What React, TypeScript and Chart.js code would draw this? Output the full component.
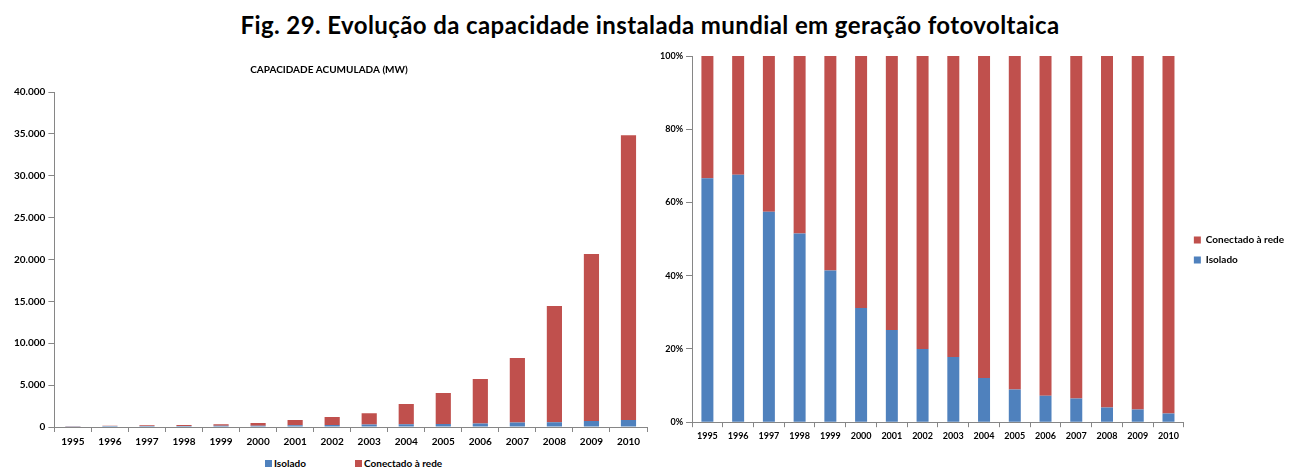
import React, { useEffect, useRef } from "react";
import { Chart, registerables } from "chart.js";

Chart.register(...registerables);

const years = ["1995","1996","1997","1998","1999","2000","2001","2002","2003","2004","2005","2006","2007","2008","2009","2010"];
// Capacidade acumulada (MW)
const isoladoMW = [87, 108, 115, 130, 137, 150, 210, 240, 290, 330, 360, 410, 540, 580, 720, 840];
const conectadoMW = [43, 52, 85, 120, 193, 330, 630, 950, 1340, 2420, 3700, 5320, 7700, 13870, 19940, 34010];
// Participação (%)
const isoladoPct = [66.6, 67.6, 57.5, 51.5, 41.4, 31.2, 25.2, 20.0, 17.8, 12.1, 8.9, 7.2, 6.5, 4.0, 3.5, 2.4];
const conectadoPct = [33.4, 32.4, 42.5, 48.5, 58.6, 68.8, 74.8, 80.0, 82.2, 87.9, 91.1, 92.8, 93.5, 96.0, 96.5, 97.6];
const leftTicksMax = 40000;
const rightTicksMax = 100;
const seriesNames = ["Isolado", "Conectado à rede"];

const BLUE = "#4F81BD";
const RED = "#C0504D";
const FONT = "Lato, 'Open Sans', sans-serif";
const AXIS = "#868686";

const fmt = (v: number) => String(v).replace(/\B(?=(\d{3})+(?!\d))/g, ".");

function LeftChart() {
  const ref = useRef<HTMLCanvasElement>(null);
  useEffect(() => {
    const c = new Chart(ref.current!, {
      type: "bar",
      data: {
        labels: years,
        datasets: [
          { label: seriesNames[0], data: isoladoMW, backgroundColor: BLUE, barPercentage: 0.41, categoryPercentage: 1 },
          { label: seriesNames[1], data: conectadoMW, backgroundColor: RED, barPercentage: 0.41, categoryPercentage: 1 },
        ],
      },
      options: {
        animation: false,
        responsive: true,
        maintainAspectRatio: false,
        layout: { padding: { left: 11, right: 8, top: 0, bottom: 1 } },
        plugins: {
          title: {
            display: true,
            text: "CAPACIDADE ACUMULADA (MW)",
            color: "#000",
            font: { family: FONT, size: 10, weight: "bold" },
            padding: { top: 6, bottom: 16 },
          },
          legend: { display: false },
          tooltip: { enabled: false },
        },
        scales: {
          x: {
            stacked: true,
            grid: { display: true, drawOnChartArea: false, drawTicks: true, tickLength: 5, color: AXIS, offset: true },
            border: { color: AXIS },
            ticks: { color: "#000", font: { family: FONT, size: 10, weight: "bold" }, maxRotation: 0, padding: 4 },
          },
          y: {
            stacked: true,
            min: 0,
            max: leftTicksMax,
            grid: { display: true, drawOnChartArea: false, drawTicks: true, tickLength: 6, color: AXIS },
            border: { color: AXIS },
            ticks: {
              stepSize: 5000,
              color: "#000",
              font: { family: FONT, size: 10, weight: "bold" },
              padding: 3,
              callback: (v: any) => fmt(Number(v)),
            },
          },
        },
      },
    });
    return () => c.destroy();
  }, []);
  return <canvas ref={ref} />;
}

function RightChart() {
  const ref = useRef<HTMLCanvasElement>(null);
  useEffect(() => {
    const c = new Chart(ref.current!, {
      type: "bar",
      data: {
        labels: years,
        datasets: [
          { label: seriesNames[0], data: isoladoPct, backgroundColor: BLUE, barPercentage: 0.39, categoryPercentage: 1 },
          { label: seriesNames[1], data: conectadoPct, backgroundColor: RED, barPercentage: 0.39, categoryPercentage: 1 },
        ],
      },
      options: {
        animation: false,
        responsive: true,
        maintainAspectRatio: false,
        layout: { padding: { left: 9, right: 0, top: 12, bottom: 0 } },
        plugins: {
          legend: {
            position: "right",
            reverse: true,
            align: "center",
            labels: {
              color: "#000",
              font: { family: FONT, size: 10, weight: "bold" },
              boxWidth: 7,
              boxHeight: 7,
              padding: 10,
            },
          },
          tooltip: { enabled: false },
        },
        scales: {
          x: {
            stacked: true,
            grid: { display: true, drawOnChartArea: false, drawTicks: true, tickLength: 5, color: AXIS, offset: true },
            border: { color: AXIS },
            ticks: { color: "#000", font: { family: FONT, size: 9, weight: "bold" }, maxRotation: 0, padding: 3 },
          },
          y: {
            stacked: true,
            min: 0,
            max: rightTicksMax,
            grid: { display: true, drawOnChartArea: false, drawTicks: true, tickLength: 6, color: AXIS },
            border: { color: AXIS },
            ticks: {
              stepSize: 20,
              color: "#000",
              font: { family: FONT, size: 9, weight: "bold" },
              padding: 3,
              callback: (v: any) => v + "%",
            },
          },
        },
      },
    });
    return () => c.destroy();
  }, []);
  return <canvas ref={ref} />;
}

const legendText: React.CSSProperties = {
  position: "absolute",
  top: 0,
  fontFamily: FONT,
  fontWeight: "bold",
  fontSize: 10,
  lineHeight: "14px",
  color: "#000",
  whiteSpace: "nowrap",
  display: "flex",
  alignItems: "center",
};
const swatch = (color: string): React.CSSProperties => ({
  display: "inline-block",
  width: 7,
  height: 7,
  background: color,
  marginRight: 2,
});

export default function App() {
  return (
    <div style={{ position: "fixed", left: 0, top: 0, width: 1289, height: 468, background: "#fff", overflow: "hidden" }}>
      <div
        style={{
          position: "absolute",
          left: 0,
          top: 9,
          width: 1300,
          textAlign: "center",
          fontFamily: FONT,
          fontWeight: "bold",
          fontSize: 24,
          letterSpacing: "0.4px",
          color: "#000",
          lineHeight: "32px",
        }}
      >
        Fig. 29. Evolução da capacidade instalada mundial em geração fotovoltaica
      </div>
      <div style={{ position: "absolute", left: 0, top: 58, width: 655, height: 395 }}>
        <LeftChart />
      </div>
      <div style={{ position: "absolute", left: 0, top: 456, width: 655, height: 14 }}>
        <div style={{ ...legendText, left: 265 }}>
          <span style={swatch(BLUE)} />
          {seriesNames[0]}
        </div>
        <div style={{ ...legendText, left: 355 }}>
          <span style={swatch(RED)} />
          {seriesNames[1]}
        </div>
      </div>
      <div style={{ position: "absolute", left: 648, top: 44, width: 646, height: 400 }}>
        <RightChart />
      </div>
    </div>
  );
}
